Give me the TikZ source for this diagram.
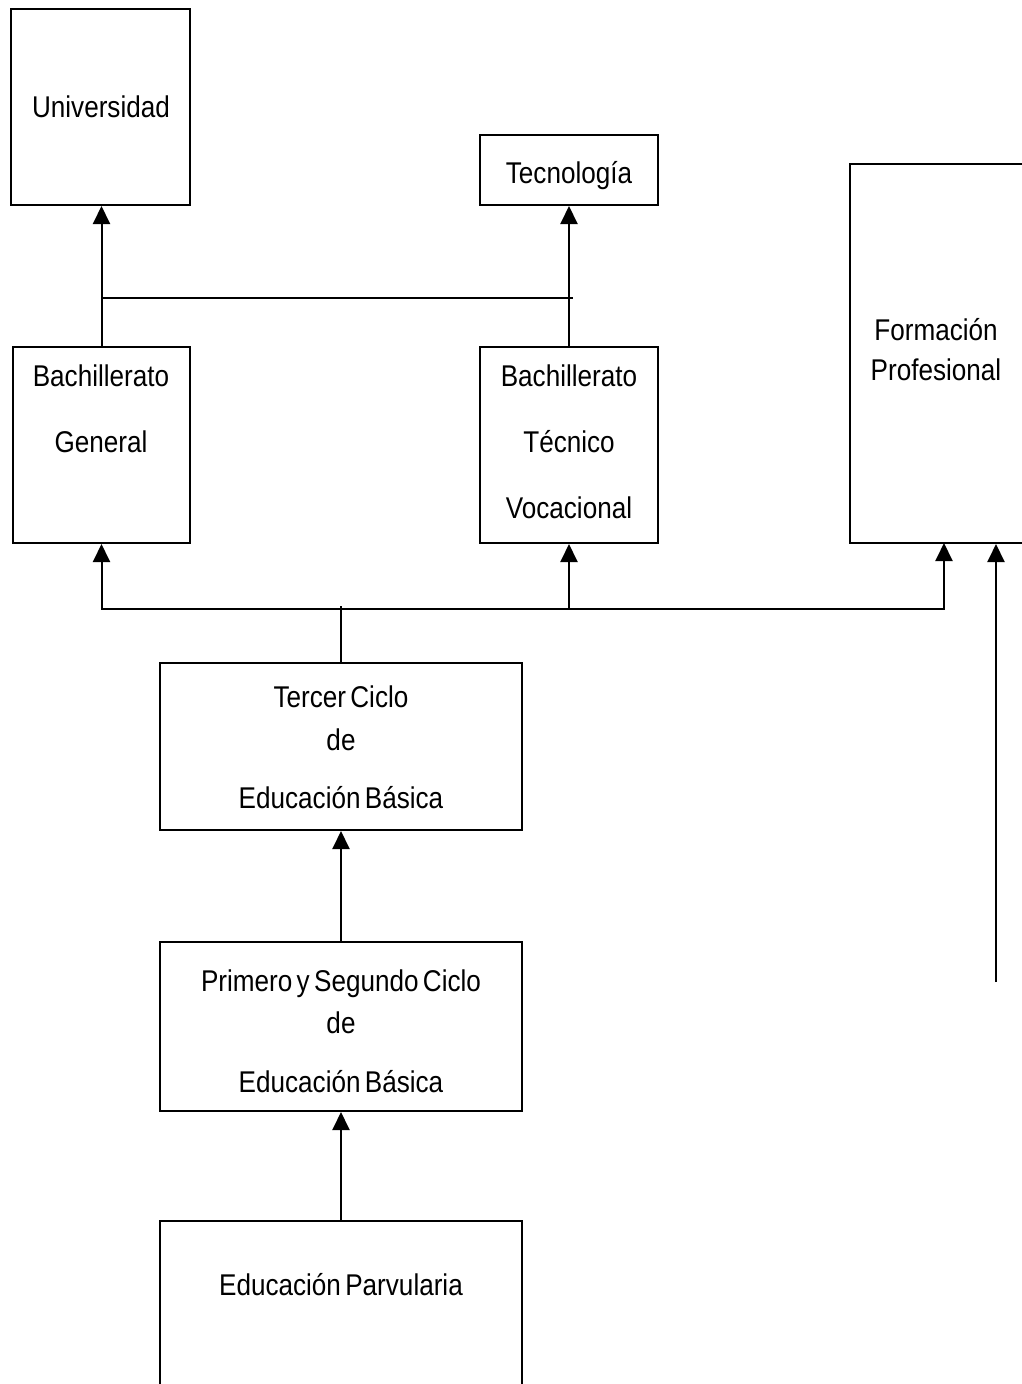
\documentclass[tikz,border=0pt]{standalone}
\usepackage{fontspec}
\setmainfont{Liberation Sans}[FakeStretch=0.87,WordSpace=0.6]
\usetikzlibrary{arrows.meta}
\begin{document}
\begin{tikzpicture}[x=1pt,y=-1pt,
  box/.style={draw, line width=2pt, inner sep=0pt},
  lbl/.style={anchor=base, inner sep=0pt, font=\fontsize{30}{36}\selectfont},
  conn/.style={line width=2pt},
  up/.style={conn, -{Triangle[width=17pt,length=18pt]}}]
\useasboundingbox (0,0) rectangle (1022,1384);
\clip (0,0) rectangle (1022,1384);

% boxes
\node[box, minimum width=179pt, minimum height=196pt] (univ) at (100.5,107) {};
\node[box, minimum width=178pt, minimum height=70pt]  (tec)  at (569,170) {};
\node[box, minimum width=180pt, minimum height=379pt] (fp)   at (940,353.5) {};
\node[box, minimum width=177pt, minimum height=196pt] (bg)   at (101.5,445) {};
\node[box, minimum width=178pt, minimum height=196pt] (btv)  at (569,445) {};
\node[box, minimum width=362pt, minimum height=167pt] (tc)   at (341,746.5) {};
\node[box, minimum width=362pt, minimum height=169pt] (ps)   at (341,1026.5) {};
\node[box, minimum width=362pt, minimum height=199pt] (ep)   at (341,1320.5) {};

% labels
\node[lbl] (univT) at (101,117) {Universidad};
\node[lbl] (tecT)  at (569,183) {Tecnología};
\node[lbl] (fpT1)  at (936,340) {Formación};
\node[lbl] (fpT2)  at (936,380) {Profesional};
\node[lbl] (bgT1)  at (101,386) {Bachillerato};
\node[lbl] (bgT2)  at (101,452) {General};
\node[lbl] (btvT1) at (569,386) {Bachillerato};
\node[lbl] (btvT2) at (569,452) {Técnico};
\node[lbl] (btvT3) at (569,518) {Vocacional};
\node[lbl] (tcT1)  at (341,707) {Tercer Ciclo};
\node[lbl] (tcT2)  at (341,750) {de};
\node[lbl] (tcT3)  at (341,808) {Educación Básica};
\node[lbl] (psT1)  at (341,991) {Primero y Segundo Ciclo};
\node[lbl] (psT2)  at (341,1033) {de};
\node[lbl] (psT3)  at (341,1092) {Educación Básica};
\node[lbl] (epT)   at (341,1295) {Educación Parvularia};

% junction points
\coordinate (upperbar) at (573,298);
\coordinate (lowbar)   at (0,609);
\coordinate (fpin)     at (944,543);
\coordinate (side)     at (996,982);

% upper level connectors
\draw[up] (bg.north) -- (bg.north |- univ.south);
\draw[up] (btv.north) -- (btv.north |- tec.south);
\draw[conn] (bg.north |- upperbar) -- (upperbar);

% lower level connectors
\draw[conn] (tc.north) -- ([yshift=3pt]tc.north |- lowbar);
\draw[up] (tc.north |- lowbar) -| (bg.south);
\draw[up] (tc.north |- lowbar) -| (fpin);
\draw[up] (btv.south |- lowbar) -- (btv.south);
\draw[up] (ps.north) -- (tc.south);
\draw[up] (ep.north) -- (ps.south);
\draw[up] (side) -- (side |- fp.south);
\end{tikzpicture}
\end{document}
